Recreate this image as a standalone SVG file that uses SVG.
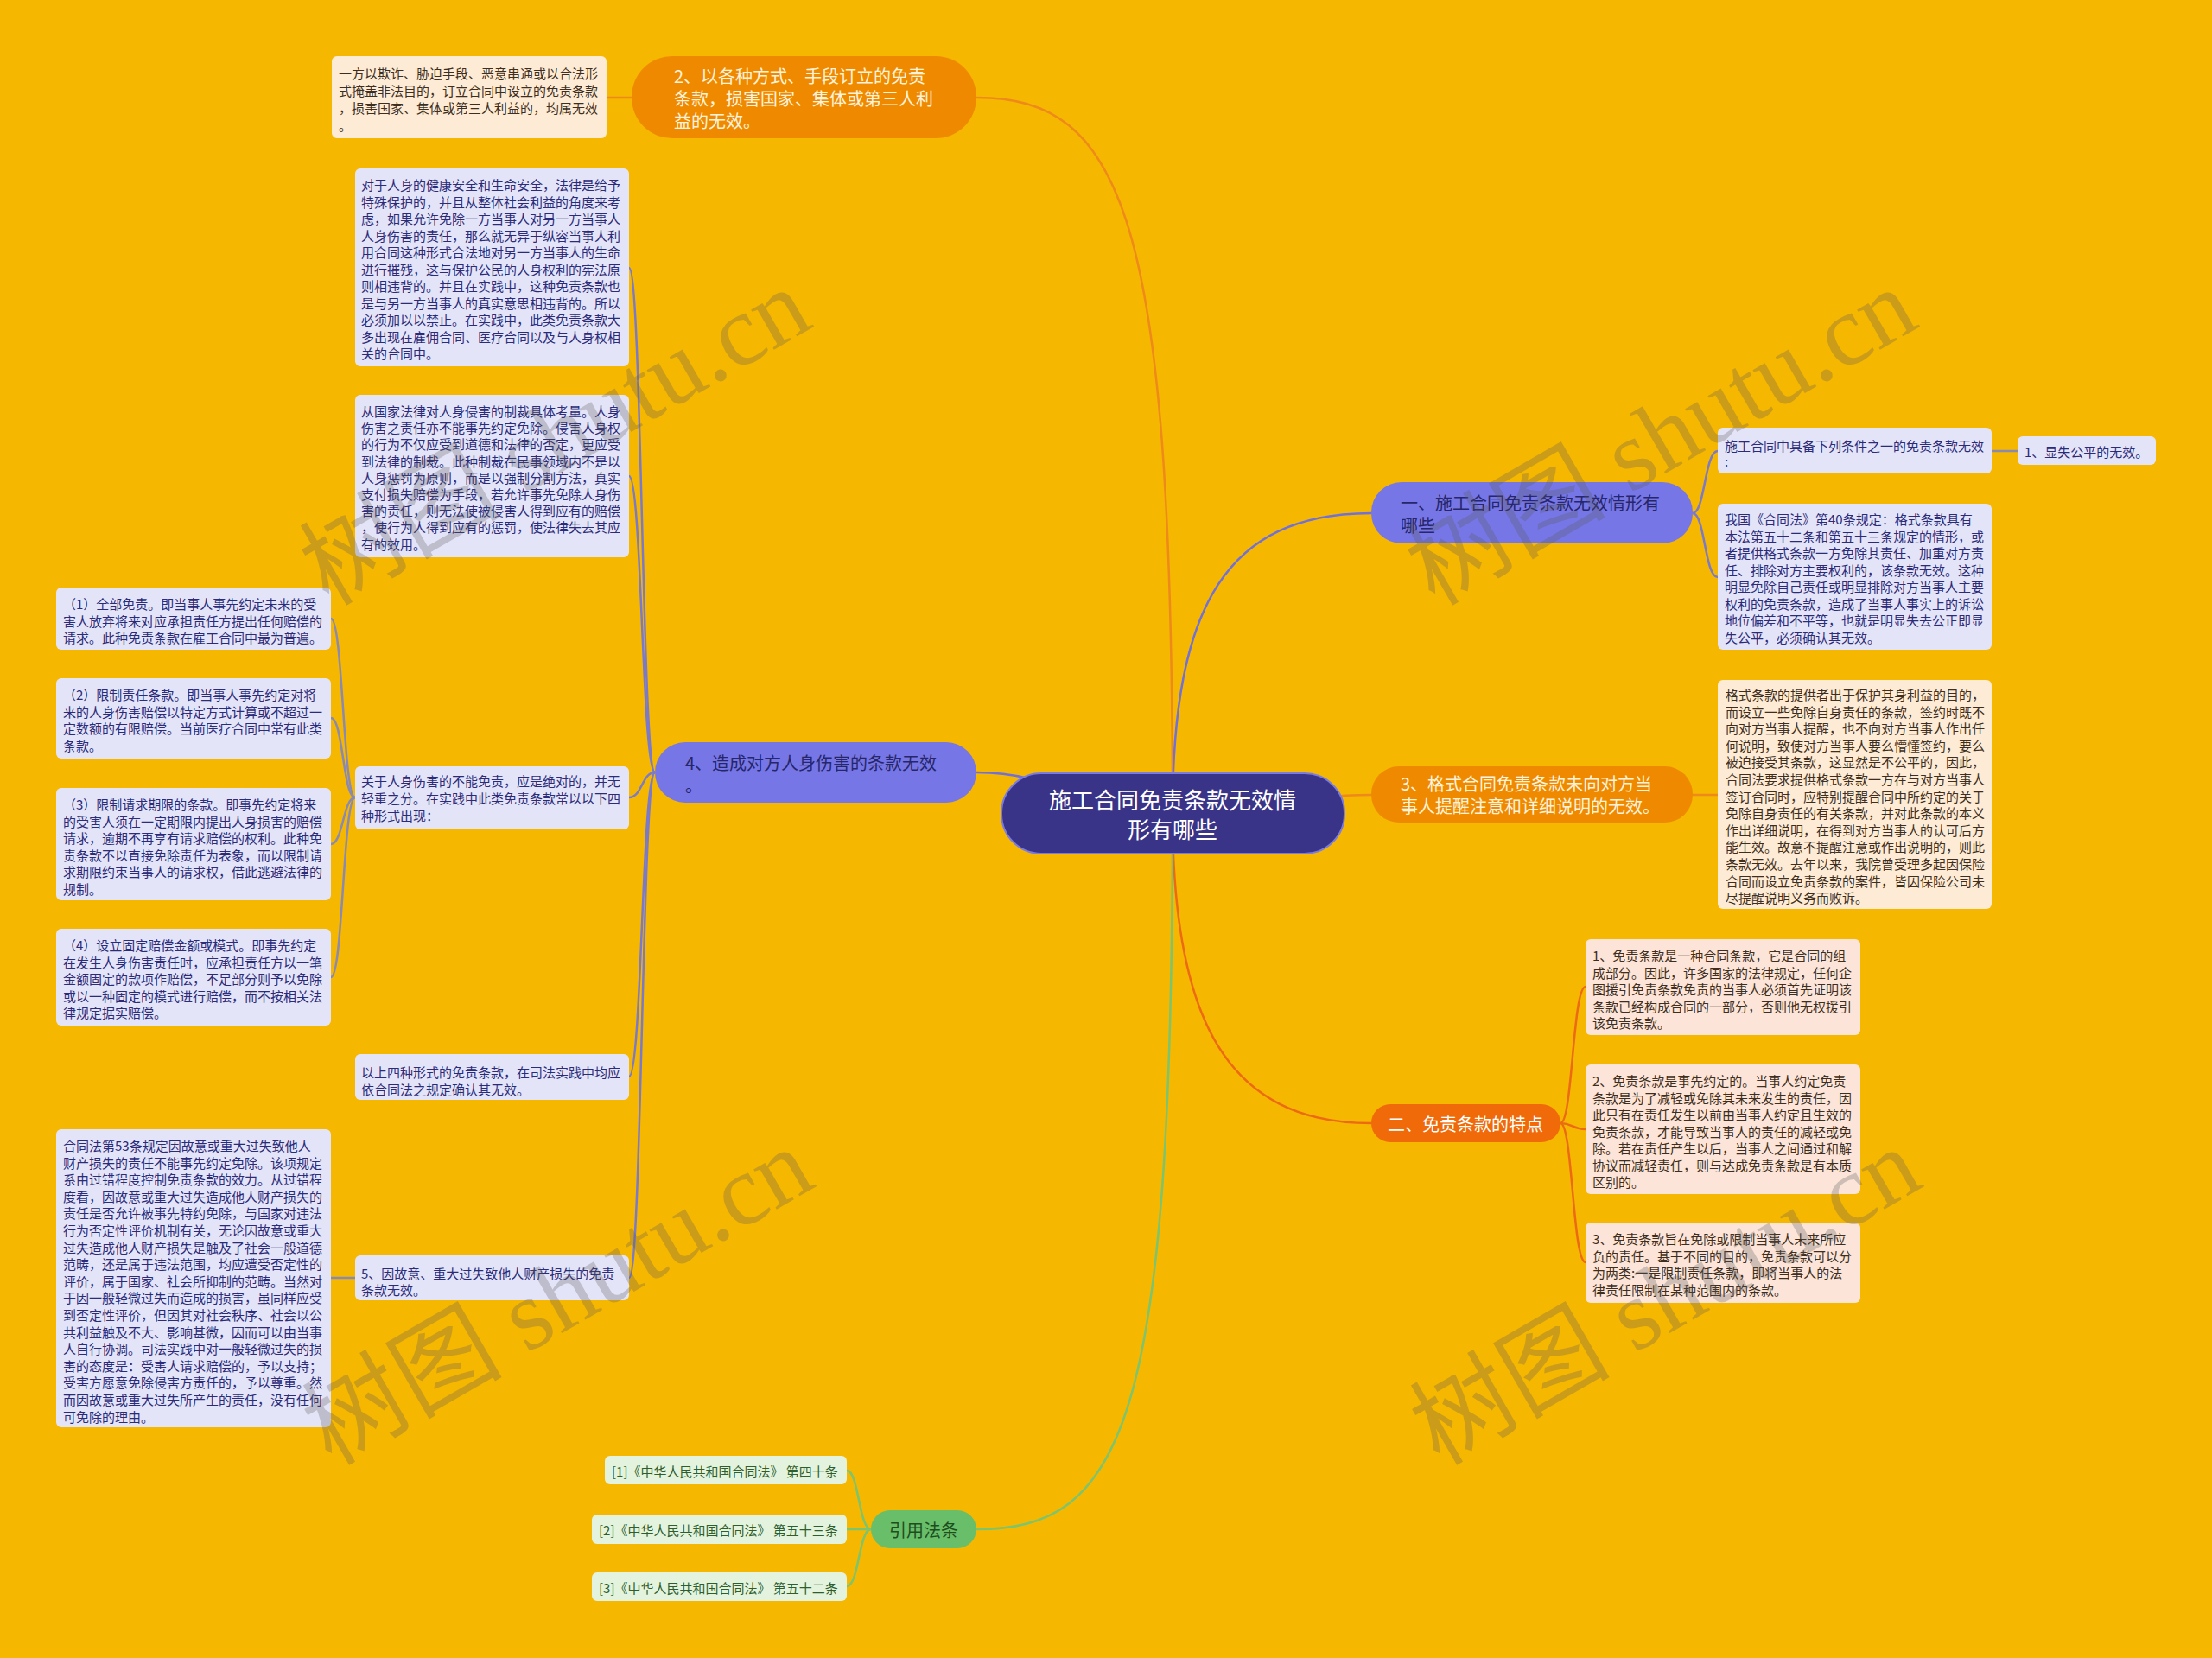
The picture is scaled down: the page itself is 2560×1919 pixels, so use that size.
<svg xmlns="http://www.w3.org/2000/svg" width="2560" height="1919" viewBox="0 0 2560 1919">
<style>
text{font-family:"Noto Sans CJK SC","Noto Sans",sans-serif;dominant-baseline:central}
.t15{font-size:15px}
.t20{font-size:20px}
.lv{fill:#E4E4F8}
.cr{fill:#FDEBD5}
.pk{fill:#FCE5D8}
.gb{fill:#E3F3DD}
.nav{fill:#2B2B78}
.brn{fill:#3E2E20}
.grn{fill:#2E5E2E}
.c{fill:none;stroke-width:2.5}
.wm{font-family:"Liberation Serif","Noto Sans CJK SC",serif;font-size:116px;fill:#5A5A5A;opacity:0.28;dominant-baseline:auto}
</style>
<rect x="0" y="0" width="2560" height="1919" fill="#F6B700"/>

<g id="connectors">
<path class="c" stroke="#EE8A1A" d="M1357,941 C1357,250 1300,113 1130,113"/>
<path class="c" stroke="#7070D8" d="M1357,941 C1240,941 1230,894 1130,894"/>
<path class="c" stroke="#7CC46E" d="M1357,941 C1357,1650 1300,1770 1130,1770"/>
<path class="c" stroke="#7070D8" d="M1357,941 C1357,700 1420,594 1587,594"/>
<path class="c" stroke="#EE8A1A" d="M1357,941 C1480,941 1490,920 1587,920"/>
<path class="c" stroke="#EC6A14" d="M1357,941 C1357,1180 1420,1300 1587,1300"/>
<path class="c" stroke="#EE8A1A" d="M731,113 L702,113"/>
<g stroke="#7A7AC8" class="c">
<path d="M758,894 C743,894 743,310 728,310"/>
<path d="M758,894 C743,894 743,551 728,551"/>
<path d="M758,894 C743,894 743,923 728,923"/>
<path d="M758,894 C743,894 743,1246 728,1246"/>
<path d="M758,894 C743,894 743,1479 728,1479"/>
</g>
<g stroke="#8A8AB0" class="c">
<path d="M411,923 C397,923 397,716 383,716"/>
<path d="M411,923 C397,923 397,831 383,831"/>
<path d="M411,923 C397,923 397,977 383,977"/>
<path d="M411,923 C397,923 397,1131 383,1131"/>
<path d="M411,1479 L383,1479"/>
<path d="M2305,522 L2335,522"/>
</g>
<g stroke="#7A7AC8" class="c">
<path d="M1959,594 C1973,594 1973,522 1988,522"/>
<path d="M1959,594 C1973,594 1973,668 1988,668"/>
</g>
<path class="c" stroke="#EE8A1A" d="M1959,920 L1988,920"/>
<g stroke="#EC6A14" class="c">
<path d="M1806,1300 C1820,1300 1820,1142 1835,1142"/>
<path d="M1806,1300 C1820,1300 1820,1307 1835,1307"/>
<path d="M1806,1300 C1820,1300 1820,1461 1835,1461"/>
</g>
<g stroke="#7CC46E" class="c">
<path d="M1008,1770 C994,1770 994,1702 980,1702"/>
<path d="M1008,1770 L980,1770"/>
<path d="M1008,1770 C994,1770 994,1836 980,1836"/>
</g>
</g>

<g id="root">
<rect x="1159" y="895" width="397" height="93" rx="46" fill="#3A3488" stroke="#7C7CE0" stroke-width="2"/>
<text font-size="26" fill="#FFFFFF" text-anchor="middle"><tspan x="1357" y="924">施工合同免责条款无效情</tspan><tspan x="1357" y="958">形有哪些</tspan></text>
</g>

<g id="n2">
<rect x="731" y="65" width="399" height="95" rx="47" fill="#EF8A00"/>
<text class="t20" fill="#FFF3DC"><tspan x="780" y="87">2、以各种方式、手段订立的免责</tspan><tspan x="780" y="113">条款，损害国家、集体或第三人利</tspan><tspan x="780" y="139">益的无效。</tspan></text>
</g>
<g id="n2a">
<rect x="384" y="65" width="318" height="95" rx="6" class="cr"/>
<text class="t15 brn"><tspan x="392" y="84">一方以欺诈、胁迫手段、恶意串通或以合法形</tspan><tspan x="392" y="104">式掩盖非法目的，订立合同中设立的免责条款</tspan><tspan x="392" y="124">，损害国家、集体或第三人利益的，均属无效</tspan><tspan x="392" y="144">。</tspan></text>
</g>

<g id="n4">
<rect x="758" y="859" width="372" height="70" rx="35" fill="#7676E6"/>
<text class="t20" fill="#26266A"><tspan x="793" y="882">4、造成对方人身伤害的条款无效</tspan><tspan x="793" y="908">。</tspan></text>
</g>
<g id="n4a">
<rect x="411" y="195" width="317" height="229" rx="6" class="lv"/>
<text class="t15 nav"><tspan x="418" y="213">对于人身的健康安全和生命安全，法律是给予</tspan><tspan x="418" y="232.5">特殊保护的，并且从整体社会利益的角度来考</tspan><tspan x="418" y="252">虑，如果允许免除一方当事人对另一方当事人</tspan><tspan x="418" y="271.5">人身伤害的责任，那么就无异于纵容当事人利</tspan><tspan x="418" y="291">用合同这种形式合法地对另一方当事人的生命</tspan><tspan x="418" y="310.5">进行摧残，这与保护公民的人身权利的宪法原</tspan><tspan x="418" y="330">则相违背的。并且在实践中，这种免责条款也</tspan><tspan x="418" y="349.5">是与另一方当事人的真实意思相违背的。所以</tspan><tspan x="418" y="369">必须加以以禁止。在实践中，此类免责条款大</tspan><tspan x="418" y="388.5">多出现在雇佣合同、医疗合同以及与人身权相</tspan><tspan x="418" y="408">关的合同中。</tspan></text>
</g>
<g id="n4b">
<rect x="411" y="457" width="317" height="188" rx="6" class="lv"/>
<text class="t15 nav"><tspan x="418" y="475">从国家法律对人身侵害的制裁具体考量。人身</tspan><tspan x="418" y="494.2">伤害之责任亦不能事先约定免除。侵害人身权</tspan><tspan x="418" y="513.4">的行为不仅应受到道德和法律的否定，更应受</tspan><tspan x="418" y="532.6">到法律的制裁。此种制裁在民事领域内不是以</tspan><tspan x="418" y="551.8">人身惩罚为原则，而是以强制分割方法，真实</tspan><tspan x="418" y="571">支付损失赔偿为手段，若允许事先免除人身伤</tspan><tspan x="418" y="590.2">害的责任，则无法使被侵害人得到应有的赔偿</tspan><tspan x="418" y="609.4">，使行为人得到应有的惩罚，使法律失去其应</tspan><tspan x="418" y="628.6">有的效用。</tspan></text>
</g>
<g id="n4c">
<rect x="411" y="887" width="317" height="73" rx="6" class="lv"/>
<text class="t15 nav"><tspan x="418" y="903">关于人身伤害的不能免责，应是绝对的，并无</tspan><tspan x="418" y="923">轻重之分。在实践中此类免责条款常以以下四</tspan><tspan x="418" y="943">种形式出现：</tspan></text>
</g>
<g id="n4c1">
<rect x="65" y="680" width="318" height="72" rx="6" class="lv"/>
<text class="t15 nav"><tspan x="73" y="698">（1）全部免责。即当事人事先约定未来的受</tspan><tspan x="73" y="717.5">害人放弃将来对应承担责任方提出任何赔偿的</tspan><tspan x="73" y="737">请求。此种免责条款在雇工合同中最为普遍。</tspan></text>
</g>
<g id="n4c2">
<rect x="65" y="785" width="318" height="93" rx="6" class="lv"/>
<text class="t15 nav"><tspan x="73" y="803">（2）限制责任条款。即当事人事先约定对将</tspan><tspan x="73" y="822.5">来的人身伤害赔偿以特定方式计算或不超过一</tspan><tspan x="73" y="842">定数额的有限赔偿。当前医疗合同中常有此类</tspan><tspan x="73" y="861.5">条款。</tspan></text>
</g>
<g id="n4c3">
<rect x="65" y="912" width="318" height="130" rx="6" class="lv"/>
<text class="t15 nav"><tspan x="73" y="930">（3）限制请求期限的条款。即事先约定将来</tspan><tspan x="73" y="949.5">的受害人须在一定期限内提出人身损害的赔偿</tspan><tspan x="73" y="969">请求，逾期不再享有请求赔偿的权利。此种免</tspan><tspan x="73" y="988.5">责条款不以直接免除责任为表象，而以限制请</tspan><tspan x="73" y="1008">求期限约束当事人的请求权，借此逃避法律的</tspan><tspan x="73" y="1027.5">规制。</tspan></text>
</g>
<g id="n4c4">
<rect x="65" y="1075" width="318" height="112" rx="6" class="lv"/>
<text class="t15 nav"><tspan x="73" y="1093">（4）设立固定赔偿金额或模式。即事先约定</tspan><tspan x="73" y="1112.5">在发生人身伤害责任时，应承担责任方以一笔</tspan><tspan x="73" y="1132">金额固定的款项作赔偿，不足部分则予以免除</tspan><tspan x="73" y="1151.5">或以一种固定的模式进行赔偿，而不按相关法</tspan><tspan x="73" y="1171">律规定据实赔偿。</tspan></text>
</g>
<g id="n4d">
<rect x="411" y="1220" width="317" height="53" rx="6" class="lv"/>
<text class="t15 nav"><tspan x="418" y="1240">以上四种形式的免责条款，在司法实践中均应</tspan><tspan x="418" y="1260">依合同法之规定确认其无效。</tspan></text>
</g>
<g id="n4e">
<rect x="411" y="1453" width="317" height="52" rx="6" class="lv"/>
<text class="t15 nav"><tspan x="418" y="1473">5、因故意、重大过失致他人财产损失的免责</tspan><tspan x="418" y="1492">条款无效。</tspan></text>
</g>
<g id="n4e1">
<rect x="65" y="1307" width="318" height="345" rx="6" class="lv"/>
<text class="t15 nav"><tspan x="73" y="1325">合同法第53条规定因故意或重大过失致他人</tspan><tspan x="73" y="1344.6">财产损失的责任不能事先约定免除。该项规定</tspan><tspan x="73" y="1364.2">系由过错程度控制免责条款的效力。从过错程</tspan><tspan x="73" y="1383.8">度看，因故意或重大过失造成他人财产损失的</tspan><tspan x="73" y="1403.4">责任是否允许被事先特约免除，与国家对违法</tspan><tspan x="73" y="1423">行为否定性评价机制有关，无论因故意或重大</tspan><tspan x="73" y="1442.6">过失造成他人财产损失是触及了社会一般道德</tspan><tspan x="73" y="1462.2">范畴，还是属于违法范围，均应遭受否定性的</tspan><tspan x="73" y="1481.8">评价，属于国家、社会所抑制的范畴。当然对</tspan><tspan x="73" y="1501.4">于因一般轻微过失而造成的损害，虽同样应受</tspan><tspan x="73" y="1521">到否定性评价，但因其对社会秩序、社会以公</tspan><tspan x="73" y="1540.6">共利益触及不大、影响甚微，因而可以由当事</tspan><tspan x="73" y="1560.2">人自行协调。司法实践中对一般轻微过失的损</tspan><tspan x="73" y="1579.8">害的态度是：受害人请求赔偿的，予以支持；</tspan><tspan x="73" y="1599.4">受害方愿意免除侵害方责任的，予以尊重。然</tspan><tspan x="73" y="1619">而因故意或重大过失所产生的责任，没有任何</tspan><tspan x="73" y="1638.6">可免除的理由。</tspan></text>
</g>

<g id="nref">
<rect x="1008" y="1748" width="122" height="44" rx="22" fill="#69BE6A"/>
<text class="t20" fill="#1E4E1E" text-anchor="middle" x="1069" y="1770">引用法条</text>
</g>
<g id="ref1">
<rect x="700" y="1685" width="280" height="33" rx="6" class="gb"/>
<text class="t15 grn" x="708" y="1702">[1]《中华人民共和国合同法》 第四十条</text>
</g>
<g id="ref2">
<rect x="685" y="1753" width="295" height="34" rx="6" class="gb"/>
<text class="t15 grn" x="693" y="1770">[2]《中华人民共和国合同法》 第五十三条</text>
</g>
<g id="ref3">
<rect x="685" y="1820" width="295" height="33" rx="6" class="gb"/>
<text class="t15 grn" x="693" y="1837">[3]《中华人民共和国合同法》 第五十二条</text>
</g>

<g id="n1">
<rect x="1587" y="558" width="372" height="71" rx="35" fill="#7676E6"/>
<text class="t20" fill="#26266A"><tspan x="1621" y="581">一、施工合同免责条款无效情形有</tspan><tspan x="1621" y="607">哪些</tspan></text>
</g>
<g id="n1a">
<rect x="1988" y="495" width="317" height="53" rx="6" class="lv"/>
<text class="t15 nav"><tspan x="1996" y="515">施工合同中具备下列条件之一的免责条款无效</tspan><tspan x="1996" y="533">:</tspan></text>
</g>
<g id="n1a1">
<rect x="2335" y="505" width="160" height="33" rx="6" class="lv"/>
<text class="t15 nav" x="2343" y="522">1、显失公平的无效。</text>
</g>
<g id="n1b">
<rect x="1988" y="583" width="317" height="169" rx="6" class="lv"/>
<text class="t15 nav"><tspan x="1996" y="600">我国《合同法》第40条规定：格式条款具有</tspan><tspan x="1996" y="619.5">本法第五十二条和第五十三条规定的情形，或</tspan><tspan x="1996" y="639">者提供格式条款一方免除其责任、加重对方责</tspan><tspan x="1996" y="658.5">任、排除对方主要权利的，该条款无效。这种</tspan><tspan x="1996" y="678">明显免除自己责任或明显排除对方当事人主要</tspan><tspan x="1996" y="697.5">权利的免责条款，造成了当事人事实上的诉讼</tspan><tspan x="1996" y="717">地位偏差和不平等，也就是明显失去公正即显</tspan><tspan x="1996" y="736.5">失公平，必须确认其无效。</tspan></text>
</g>

<g id="n3">
<rect x="1587" y="887" width="372" height="65" rx="32" fill="#EF8A00"/>
<text class="t20" fill="#FFF3DC"><tspan x="1621" y="906">3、格式合同免责条款未向对方当</tspan><tspan x="1621" y="932">事人提醒注意和详细说明的无效。</tspan></text>
</g>
<g id="n3a">
<rect x="1988" y="787" width="317" height="265" rx="6" class="cr"/>
<text class="t15 brn"><tspan x="1997" y="803">格式条款的提供者出于保护其身利益的目的，</tspan><tspan x="1997" y="822.6">而设立一些免除自身责任的条款，签约时既不</tspan><tspan x="1997" y="842.2">向对方当事人提醒，也不向对方当事人作出任</tspan><tspan x="1997" y="861.8">何说明，致使对方当事人要么懵懂签约，要么</tspan><tspan x="1997" y="881.4">被迫接受其条款，这显然是不公平的，因此，</tspan><tspan x="1997" y="901">合同法要求提供格式条款一方在与对方当事人</tspan><tspan x="1997" y="920.6">签订合同时，应特别提醒合同中所约定的关于</tspan><tspan x="1997" y="940.2">免除自身责任的有关条款，并对此条款的本义</tspan><tspan x="1997" y="959.8">作出详细说明，在得到对方当事人的认可后方</tspan><tspan x="1997" y="979.4">能生效。故意不提醒注意或作出说明的，则此</tspan><tspan x="1997" y="999">条款无效。去年以来，我院曾受理多起因保险</tspan><tspan x="1997" y="1018.6">合同而设立免责条款的案件，皆因保险公司未</tspan><tspan x="1997" y="1038.2">尽提醒说明义务而败诉。</tspan></text>
</g>

<g id="nB">
<rect x="1587" y="1278" width="219" height="44" rx="22" fill="#F06A0A"/>
<text class="t20" fill="#FFFFFF" text-anchor="middle" x="1696" y="1300">二、免责条款的特点</text>
</g>
<g id="nB1">
<rect x="1835" y="1087" width="318" height="111" rx="6" class="pk"/>
<text class="t15 brn"><tspan x="1843" y="1105">1、免责条款是一种合同条款，它是合同的组</tspan><tspan x="1843" y="1124.5">成部分。因此，许多国家的法律规定，任何企</tspan><tspan x="1843" y="1144">图援引免责条款免责的当事人必须首先证明该</tspan><tspan x="1843" y="1163.5">条款已经构成合同的一部分，否则他无权援引</tspan><tspan x="1843" y="1183">该免责条款。</tspan></text>
</g>
<g id="nB2">
<rect x="1835" y="1232" width="318" height="150" rx="6" class="pk"/>
<text class="t15 brn"><tspan x="1843" y="1250">2、免责条款是事先约定的。当事人约定免责</tspan><tspan x="1843" y="1269.5">条款是为了减轻或免除其未来发生的责任，因</tspan><tspan x="1843" y="1289">此只有在责任发生以前由当事人约定且生效的</tspan><tspan x="1843" y="1308.5">免责条款，才能导致当事人的责任的减轻或免</tspan><tspan x="1843" y="1328">除。若在责任产生以后，当事人之间通过和解</tspan><tspan x="1843" y="1347.5">协议而减轻责任，则与达成免责条款是有本质</tspan><tspan x="1843" y="1367">区别的。</tspan></text>
</g>
<g id="nB3">
<rect x="1835" y="1415" width="318" height="93" rx="6" class="pk"/>
<text class="t15 brn"><tspan x="1843" y="1433">3、免责条款旨在免除或限制当事人未来所应</tspan><tspan x="1843" y="1452.5">负的责任。基于不同的目的，免责条款可以分</tspan><tspan x="1843" y="1472">为两类:一是限制责任条款，即将当事人的法</tspan><tspan x="1843" y="1491.5">律责任限制在某种范围内的条款。</tspan></text>
</g>

<g id="watermarks">
<text class="wm" transform="translate(642,505) rotate(-30)" text-anchor="middle" y="40">树图 shutu.cn</text>
<text class="wm" transform="translate(1922,505) rotate(-30)" text-anchor="middle" y="40">树图 shutu.cn</text>
<text class="wm" transform="translate(645,1500) rotate(-30)" text-anchor="middle" y="40">树图 shutu.cn</text>
<text class="wm" transform="translate(1927,1500) rotate(-30)" text-anchor="middle" y="40">树图 shutu.cn</text>
</g>
</svg>
